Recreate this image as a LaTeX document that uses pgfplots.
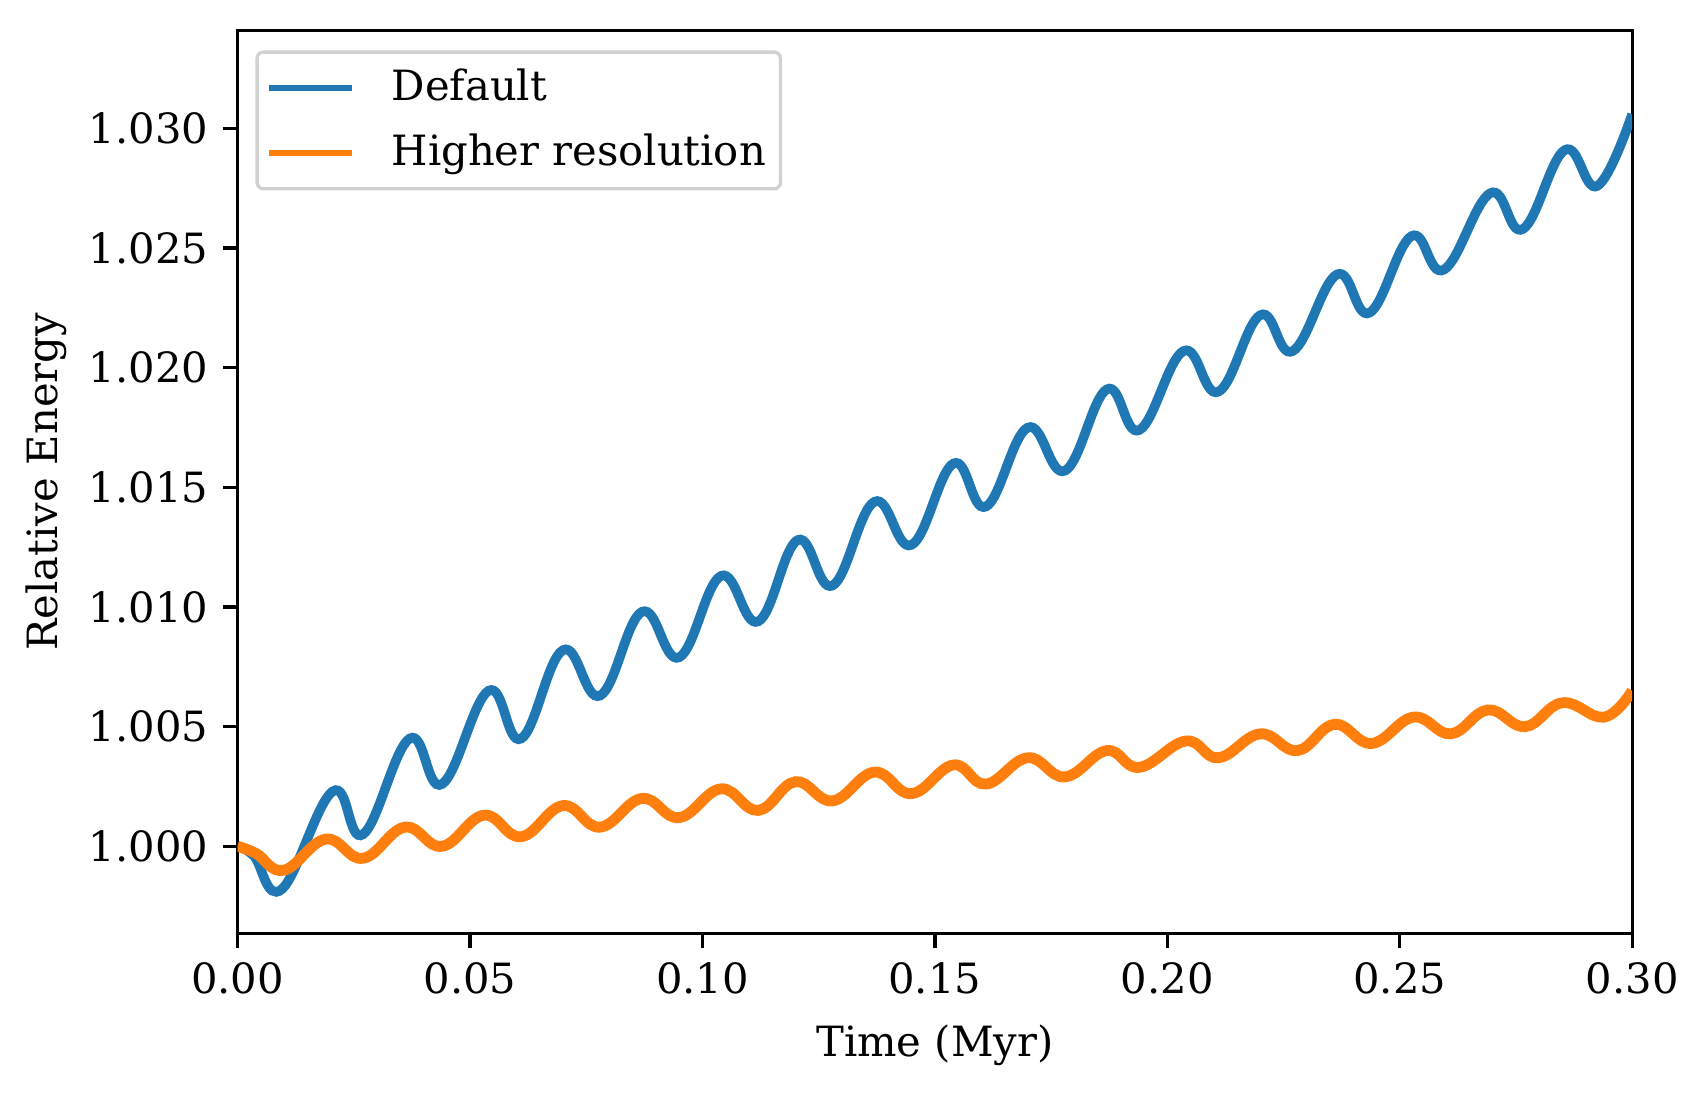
\documentclass[border=0pt]{standalone}
\usepackage{fontspec}
\setmainfont{DejaVu Serif}
\usepackage{pgfplots}
\pgfplotsset{compat=1.18}

\definecolor{tabblue}{HTML}{1F77B4}
\definecolor{taborange}{HTML}{FF7F0E}

\begin{document}
\begin{tikzpicture}
\begin{axis}[
    scale only axis,
    width=334.7pt,
    height=216.7pt,
    xmin=0, xmax=0.30,
    ymin=0.99636, ymax=1.0341,
    xtick={0,0.05,...,0.30},
    ytick={1.000,1.005,...,1.030},
    /pgf/number format/assume math mode=true,
    xticklabel style={/pgf/number format/.cd, fixed, fixed zerofill, precision=2},
    yticklabel style={/pgf/number format/.cd, fixed, fixed zerofill, precision=3},
    scaled ticks=false,
    tick align=outside,
    major tick length=3.5pt,
    tick style={black, line width=0.8pt},
    axis line style={line width=0.8pt},
    xtick pos=bottom, ytick pos=left,
    xlabel={Time (Myr)},
    ylabel={Relative Energy},
    xlabel style={at={(axis description cs:0.5,-0.1)}, anchor=north, inner sep=0pt},
    ylabel style={at={(axis description cs:-0.122,0.5)}, anchor=south, inner sep=0pt},
    legend cell align=left,
    legend style={
        at={(axis description cs:0,1)}, anchor=north west,
        xshift=4.3pt, yshift=-4.8pt,
        draw=black!18, line width=0.8pt, rounded corners=1.5pt,
        fill=white, fill opacity=0.8, text opacity=1,
        inner xsep=2pt, inner ysep=2.5pt,
        row sep=3.6pt,
        nodes={inner sep=1.5pt},
        /tikz/every odd column/.append style={column sep=7.3pt},
    },
    legend image code/.code={\draw[#1, line width=1.5pt] (0pt,0pt) -- (20pt,0pt);},
]

% Default run (peaks and troughs)
\addplot[tabblue, line width=2.3pt, smooth, tension=0.7] coordinates {
(0,1.0000) (0.0035,0.9996) (0.0095,0.9982)
(0.0205,1.0023) (0.027,1.0005)
(0.037,1.0045) (0.044,1.0026)
(0.054,1.0065) (0.061,1.0045)
(0.070,1.0082) (0.078,1.0063)
(0.087,1.0098) (0.095,1.0079)
(0.104,1.0113) (0.112,1.0094)
(0.1205,1.0128) (0.128,1.0109)
(0.137,1.0144) (0.145,1.0126)
(0.154,1.0160) (0.161,1.0142)
(0.170,1.0175) (0.178,1.0157)
(0.187,1.0191) (0.194,1.0174)
(0.2035,1.0207) (0.211,1.0190)
(0.220,1.0222) (0.227,1.0207)
(0.2365,1.0239) (0.2435,1.0223)
(0.2525,1.0255) (0.2595,1.0241)
(0.2695,1.0273) (0.2765,1.0258)
(0.2855,1.0291) (0.2925,1.0276)
(0.300,1.0306)
};
\addlegendentry{Default}

% Higher resolution run (peaks and troughs)
\addplot[taborange, line width=2.6pt, smooth, tension=0.7] coordinates {
(0,1.0000) (0.004,0.9997) (0.010,0.9990)
(0.019,1.0003) (0.027,0.9995)
(0.036,1.0008) (0.044,1.0000)
(0.053,1.0013) (0.061,1.0004)
(0.070,1.0017) (0.078,1.0008)
(0.087,1.0020) (0.095,1.0012)
(0.104,1.0024) (0.112,1.0015)
(0.120,1.0027) (0.128,1.0019)
(0.137,1.0031) (0.145,1.0022)
(0.154,1.0034) (0.161,1.0026)
(0.170,1.0037) (0.178,1.0029)
(0.187,1.0040) (0.194,1.0033)
(0.204,1.0044) (0.211,1.0037)
(0.220,1.0047) (0.228,1.0040)
(0.236,1.0051) (0.244,1.0043)
(0.253,1.0054) (0.261,1.0047)
(0.269,1.0057) (0.277,1.0050)
(0.285,1.0060) (0.294,1.0054)
(0.300,1.0065)
};
\addlegendentry{Higher resolution}

\end{axis}
\path[use as bounding box] ([xshift=-57pt,yshift=-39pt]current axis.south west) rectangle ([xshift=18.2pt,yshift=7.3pt]current axis.north east);
\end{tikzpicture}
\end{document}
